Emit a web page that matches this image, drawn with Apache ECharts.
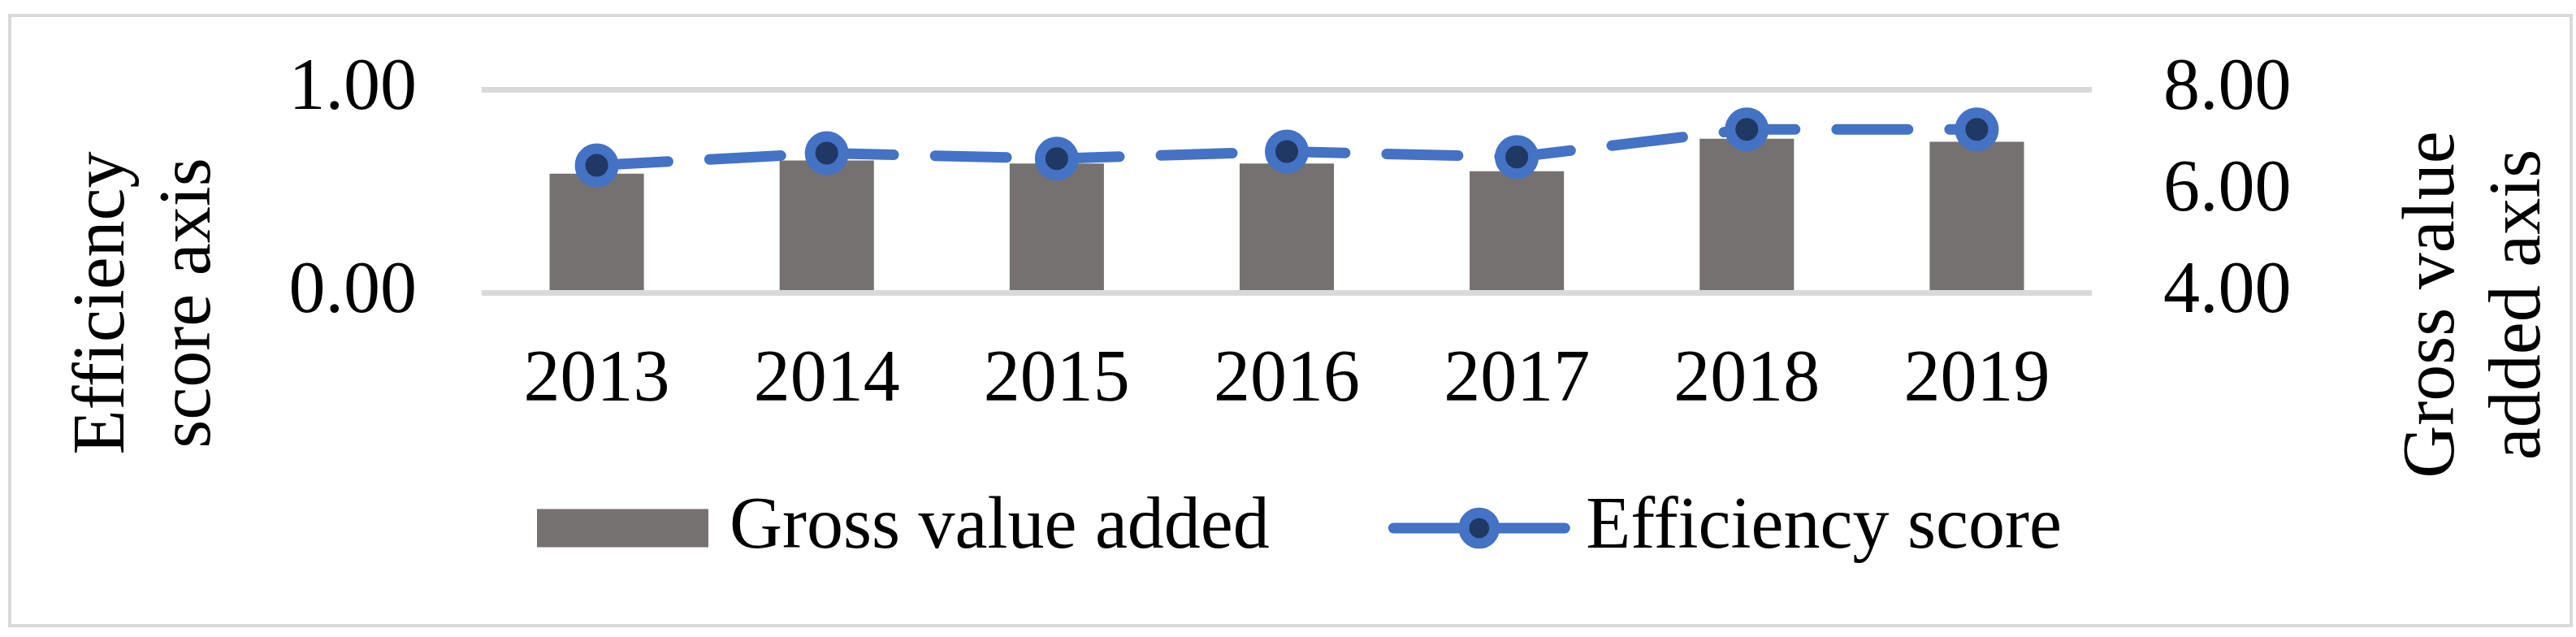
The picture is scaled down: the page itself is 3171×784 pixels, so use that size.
<!DOCTYPE html>
<html>
<head>
<meta charset="utf-8">
<title>Gross value added and efficiency score</title>
<script src="https://cdn.jsdelivr.net/npm/echarts@6/dist/echarts.min.js"></script>
<style>
  html, body { margin: 0; padding: 0; background: #fff; }
  #chart { width: 3171px; height: 784px; }
</style>
</head>
<body>
<div id="chart"></div>
<script>
// data
var years = ["2013", "2014", "2015", "2016", "2017", "2018", "2019"];
var grossValueAdded = [6.34, 6.6, 6.54, 6.54, 6.39, 7.03, 6.97];
var efficiencyScore = [0.626, 0.686, 0.659, 0.694, 0.667, 0.803, 0.803];
var efficiencyTicks = [0, 1];
var gvaTicks = [4, 6, 8];

var FONT = '"Liberation Serif", "Times New Roman", serif';
var GRID_COLOR = "#D9D9D9";
var LINE_BLUE = "#4472C4";
var MARKER_NAVY = "#203864";

var chart = echarts.init(document.getElementById("chart"));

// rotated axis titles (Excel puts them lower than the axis middle)
function axisTitle(text, x, y) {
  return {
    type: "text",
    x: x,
    y: y,
    rotation: Math.PI / 2,
    silent: true,
    style: {
      text: text,
      fontFamily: FONT,
      fontSize: 90,
      lineHeight: 106,
      fill: "#000",
      align: "center",
      verticalAlign: "middle",
    },
  };
}

var option = {
  backgroundColor: "#fff",
  animation: false,
  textStyle: { fontFamily: FONT, color: "#000" },
  grid: {
    left: 593,
    right: 596,
    top: 110,
    bottom: 424,
    containLabel: false,
  },
  legend: {
    left: 656,
    top: 600,
    itemWidth: 211,
    itemHeight: 47,
    itemGap: 146,
    textStyle: {
      fontFamily: FONT,
      fontSize: 90,
      color: "#000",
      padding: [0, 0, 0, 21],
    },
    data: [
      { name: "Gross value added", icon: "rect" },
      {
        name: "Efficiency score",
        lineStyle: { width: 13, type: "solid", cap: "round", color: LINE_BLUE },
        itemStyle: { color: MARKER_NAVY, borderColor: LINE_BLUE, borderWidth: 13 },
      },
    ],
  },
  xAxis: {
    type: "category",
    data: years,
    axisLine: { show: false },
    axisTick: { show: false },
    axisLabel: {
      margin: 64,
      fontFamily: FONT,
      fontSize: 90,
      color: "#000",
    },
  },
  yAxis: [
    {
      // left axis: efficiency score
      type: "value",
      min: efficiencyTicks[0],
      max: efficiencyTicks[efficiencyTicks.length - 1],
      interval: 1,
      z: 3,
      axisLine: { show: false },
      axisTick: { show: false },
      splitLine: { lineStyle: { color: GRID_COLOR, width: 7 } },
      axisLabel: {
        margin: 80,
        fontFamily: FONT,
        fontSize: 90,
        color: "#000",
        formatter: function (v) { return v.toFixed(2); },
      },
    },
    {
      // right axis: gross value added
      type: "value",
      position: "right",
      min: gvaTicks[0],
      max: gvaTicks[gvaTicks.length - 1],
      interval: 2,
      axisLine: { show: false },
      axisTick: { show: false },
      splitLine: { show: false },
      axisLabel: {
        margin: 88,
        fontFamily: FONT,
        fontSize: 90,
        color: "#000",
        formatter: function (v) { return v.toFixed(2); },
      },
    },
  ],
  series: [
    {
      name: "Gross value added",
      type: "bar",
      yAxisIndex: 1,
      barCategoryGap: "59%",
      itemStyle: { color: "#767171" },
      data: grossValueAdded,
      z: 2,
    },
    {
      name: "Efficiency score",
      type: "line",
      yAxisIndex: 0,
      symbol: "circle",
      symbolSize: 41,
      itemStyle: {
        color: MARKER_NAVY,
        borderColor: LINE_BLUE,
        borderWidth: 13,
      },
      lineStyle: {
        color: LINE_BLUE,
        width: 13,
        type: [88, 51],
        cap: "round",
      },
      data: efficiencyScore,
      z: 5,
    },
  ],
  graphic: [
    {
      // outer chart border
      type: "rect",
      shape: { x: 12, y: 19, width: 3153, height: 751 },
      style: { fill: "transparent", stroke: GRID_COLOR, lineWidth: 4 },
      silent: true,
      z: 0,
    },
    axisTitle("Efficiency\nscore axis", 181, 373),
    axisTitle("Gross value\nadded axis", 3049, 375),
  ],
};

chart.setOption(option);
</script>
</body>
</html>
